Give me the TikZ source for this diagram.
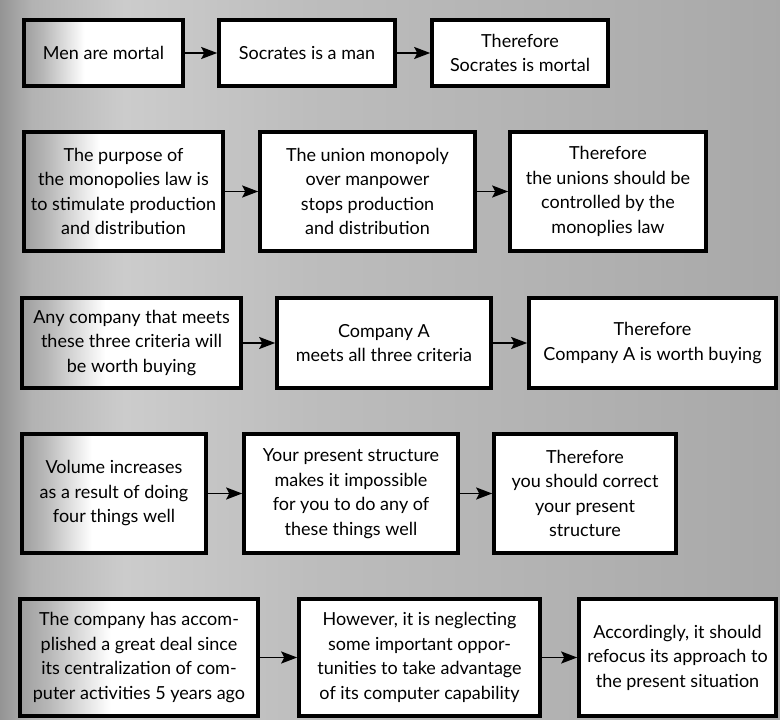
\documentclass[tikz,border=0pt]{standalone}
\usepackage{fontspec}
\setmainfont{Lato}
\usetikzlibrary{arrows.meta}

% fill for the left-hand boxes: grey at the left edge fading to white
\pgfdeclarehorizontalshading{boxfade}{100bp}{%
  color(0bp)=(black!38); color(25bp)=(black!38); color(31bp)=(black!28);
  color(44bp)=(white); color(100bp)=(white)}
\pgfdeclarehorizontalshading{pagefade}{100bp}{%
  color(0bp)=(black!42); color(25bp)=(black!42); color(27bp)=(black!30);
  color(33bp)=(black!20); color(45bp)=(black!26); color(75bp)=(black!34);
  color(100bp)=(black!34)}

\tikzset{
  box/.style={draw=black, line width=3.6pt, fill=white, align=center,
    inner sep=0pt, font=\fontsize{18}{24.5}\selectfont},
  firstbox/.style={box, shading=boxfade},
  link/.style={line width=1.8pt, -{Stealth[length=16pt,width=12pt,inset=3pt]}}
}

\begin{document}
\begin{tikzpicture}[x=1pt,y=-1pt]
\useasboundingbox (0,0) rectangle (780,720);
\shade[shading=pagefade] (0,0) rectangle (780,720);

% syllogism 1
\node[firstbox, minimum width=159pt, minimum height=66pt] (a1) at (103.5,53) {Men are mortal};
\node[box, minimum width=176pt, minimum height=66pt] (a2) at (307,53) {Socrates is a man};
\node[box, minimum width=176pt, minimum height=66pt] (a3) at (520,53) {Therefore\\Socrates is mortal};

% syllogism 2
\node[firstbox, minimum width=199pt, minimum height=119pt] (b1) at (123.5,191.5)
  {The purpose of\\the monopolies law is\\to stimulate production\\and distribution};
\node[box, minimum width=215pt, minimum height=119pt] (b2) at (367.5,191.5)
  {The union monopoly\\over manpower\\stops production\\and distribution};
\node[box, minimum width=196pt, minimum height=119pt] (b3) at (608,191.5)
  {Therefore\\the unions should be\\controlled by the\\monoplies law};

% syllogism 3
\node[firstbox, minimum width=219pt, minimum height=90pt] (c1) at (131.5,343)
  {Any company that meets\\these three criteria will\\be worth buying};
\node[box, minimum width=214pt, minimum height=90pt] (c2) at (384,343)
  {Company A\\meets all three criteria};
\node[box, minimum width=247pt, minimum height=90pt] (c3) at (652.5,343)
  {Therefore\\Company A is worth buying};

% syllogism 4
\node[firstbox, minimum width=184pt, minimum height=119pt] (d1) at (114,493.5)
  {Volume increases\\as a result of doing\\four things well};
\node[box, minimum width=214pt, minimum height=119pt] (d2) at (351,493.5)
  {Your present structure\\makes it impossible\\for you to do any of\\these things well};
\node[box, minimum width=182pt, minimum height=119pt] (d3) at (585,493.5)
  {Therefore\\you should correct\\your present\\structure};

% syllogism 5
\node[firstbox, minimum width=238pt, minimum height=117pt] (e1) at (139,657.5)
  {The company has accom-\\plished a great deal since\\its centralization of com-\\puter activities 5 years ago};
\node[box, minimum width=241pt, minimum height=117pt] (e2) at (419.5,657.5)
  {However, it is neglecting\\some important oppor-\\tunities to take advantage\\of its computer capability};
\node[box, minimum width=197pt, minimum height=117pt] (e3) at (677.5,657.5)
  {Accordingly, it should\\refocus its approach to\\the present situation};

% inference arrows
\foreach \r in {a,b,c,d,e}{
  \draw[link] (\r1.east) -- (\r2.west);
  \draw[link] (\r2.east) -- (\r3.west);
}
\end{tikzpicture}
\end{document}
